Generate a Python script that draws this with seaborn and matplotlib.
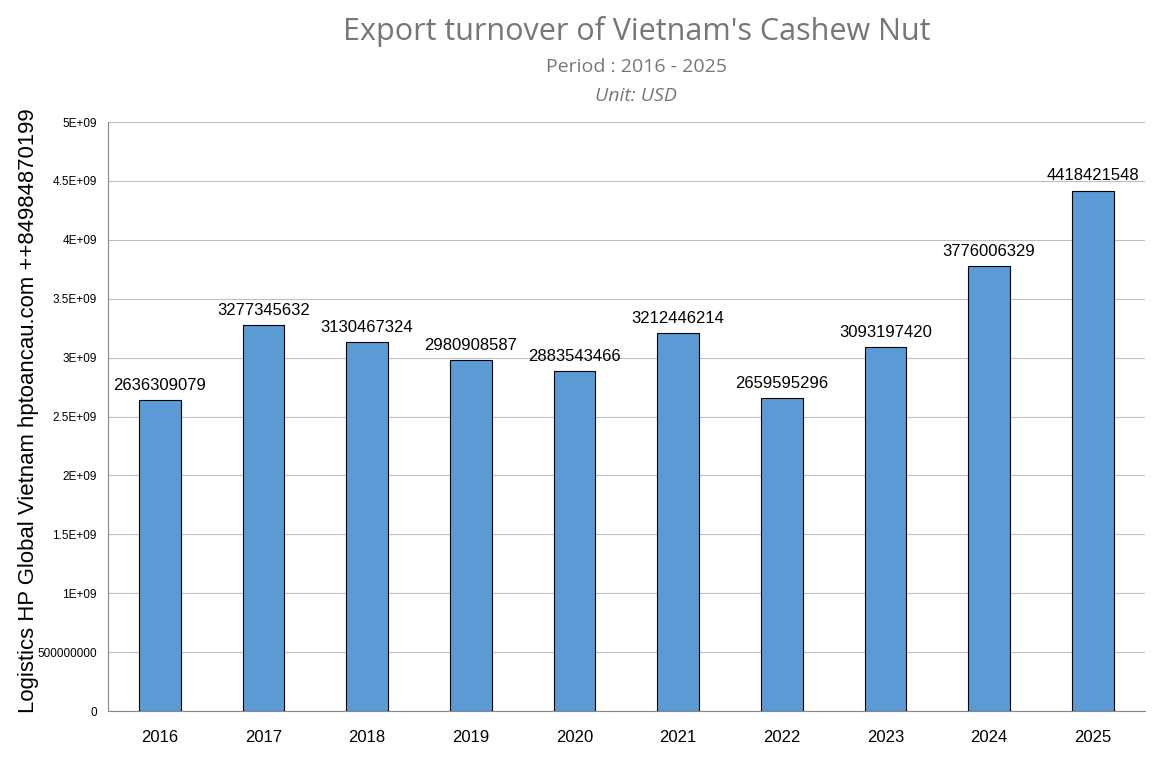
import matplotlib
matplotlib.use("Agg")
import matplotlib.pyplot as plt
import seaborn as sns
import pandas as pd

years = ["2016","2017","2018","2019","2020","2021","2022","2023","2024","2025"]
values = [2636309079,3277345632,3130467324,2980908587,2883543466,3212446214,2659595296,3093197420,3776006329,4418421548]
yticks = [0,5e8,1e9,1.5e9,2e9,2.5e9,3e9,3.5e9,4e9,4.5e9,5e9]
ytick_labels = ["0","500000000","1E+09","1.5E+09","2E+09","2.5E+09","3E+09","3.5E+09","4E+09","4.5E+09","5E+09"]

sns.set_style("white")
plt.rcParams['font.family'] = ['Liberation Sans', 'DejaVu Sans']
df = pd.DataFrame({"year": years, "value": values})

fig = plt.figure(figsize=(11.57, 7.58), dpi=100)
ax = fig.add_axes([0.0933, 0.062, 0.896, 0.777])
sns.barplot(data=df, x="year", y="value", color="#5B9BD5", width=0.4,
            edgecolor="black", linewidth=0.8, saturation=1, ax=ax, zorder=3)
ax.set_ylim(0, 5e9)
ax.set_yticks(yticks)
ax.set_yticklabels(ytick_labels, fontsize=8.5)
ax.tick_params(axis='x', labelsize=12, length=0, pad=14, labelcolor="black")
ax.tick_params(axis='y', length=0, pad=8, labelcolor="black")
ax.yaxis.grid(True, color="#BFBFBF", linewidth=0.8, zorder=0)
for s in ["top", "right"]:
    ax.spines[s].set_visible(False)
ax.spines["left"].set_color("#888888")
ax.spines["bottom"].set_color("#888888")
ax.set_xlabel("")
ax.set_ylabel("")
for i, v in enumerate(values):
    ax.text(i, v + 6e7, str(v), ha="center", va="bottom", fontsize=12, zorder=4, color="black")

fig.text(0.55, 0.958, "Export turnover of Vietnam's Cashew Nut", ha="center", va="center",
         fontsize=22, color="#767676", family=["Open Sans", "DejaVu Sans"])
fig.text(0.55, 0.912, "Period : 2016 - 2025", ha="center", va="center", fontsize=14, color="#767676",
         family=["Open Sans", "DejaVu Sans"])
fig.text(0.55, 0.873, "Unit: USD", ha="center", va="center", fontsize=14, color="#767676", style="italic",
         family=["Open Sans", "DejaVu Sans"])
fig.text(0.025, 0.458, "Logistics HP Global Vietnam hptoancau.com ++84984870199", rotation=90,
         ha="center", va="center", fontsize=15.9, color="black")
fig.savefig("out.png", dpi=100)
